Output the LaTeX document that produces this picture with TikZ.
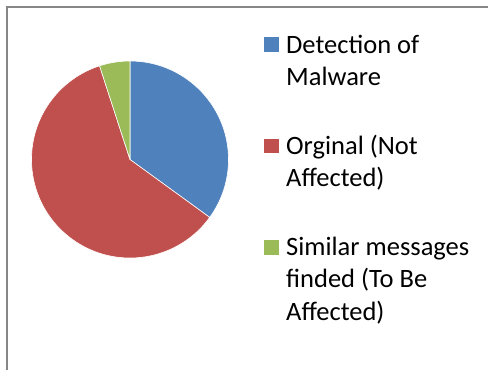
\documentclass[tikz,border=0pt]{standalone}
\usepackage{fontspec}
\setmainfont{Carlito}
\definecolor{sblue}{HTML}{4F81BD}
\definecolor{sred}{HTML}{C0504D}
\definecolor{sgreen}{HTML}{9BBB59}
\definecolor{frame}{HTML}{878787}
\begin{document}
\begin{tikzpicture}[x=1pt,y=-1pt,
  slice/.style={draw=white,line width=0.6pt,line join=round},
  legbox/.style={minimum size=14.5pt,inner sep=0pt,draw=none},
  legtext/.style={anchor=base west,inner sep=0pt,font=\fontsize{26.5}{32}\selectfont}]
\useasboundingbox (0,0) rectangle (488,370);
\draw[frame,line width=2pt] (488,6.5) -- (6.5,6.5) -- (6.5,370);
\coordinate (c) at (130,159.5);
\def\R{98.5}
% y axis points down, so angles are mirrored
% blue 35%
\fill[sblue,slice] (c) -- ++(-90:\R) arc[start angle=-90,end angle=36,radius=\R] -- cycle;
% red 60%
\fill[sred,slice] (c) -- ++(36:\R) arc[start angle=36,end angle=252,radius=\R] -- cycle;
% green 5%
\fill[sgreen,slice] (c) -- ++(-108:\R) arc[start angle=-108,end angle=-90,radius=\R] -- cycle;
% legend
\node[legbox,fill=sblue] (kb) at (271.5,44.5) {};
\node[legbox,fill=sred] (kr) at (271.5,146) {};
\node[legbox,fill=sgreen] (kg) at (271.5,247.5) {};
\node[legtext] (b1) at (286,53) {Detection of};
\node[legtext] (b2) at (286,85.5) {Malware};
\node[legtext] (r1) at (286,154) {Orginal (Not};
\node[legtext] (r2) at (286,186.5) {Affected)};
\node[legtext] (g1) at (286,255) {Similar messages};
\node[legtext] (g2) at (286,287.5) {finded (To Be};
\node[legtext] (g3) at (286,320) {Affected)};
\end{tikzpicture}
\end{document}
